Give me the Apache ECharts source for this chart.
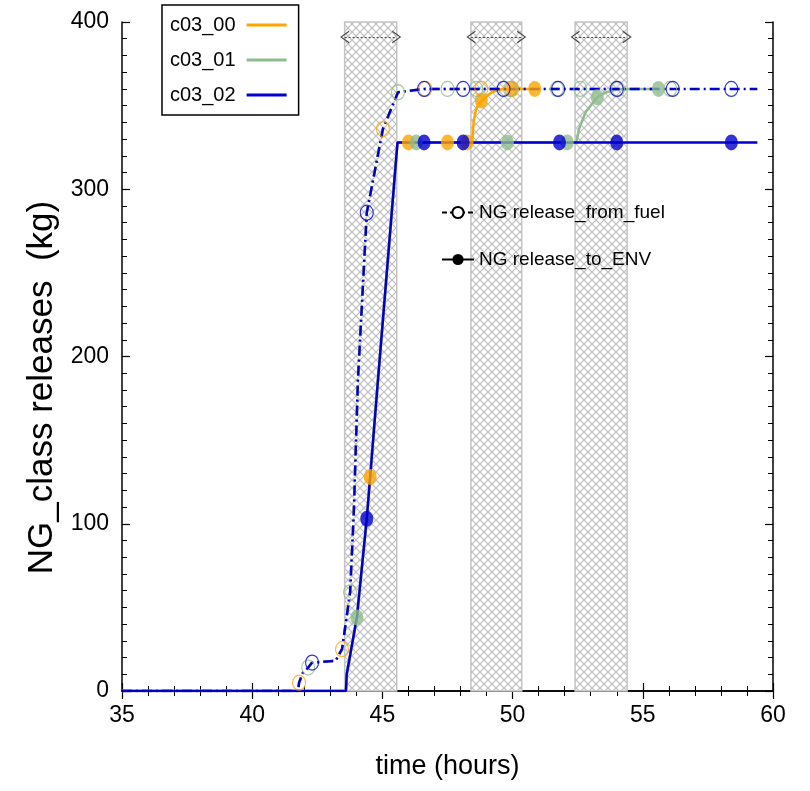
<!DOCTYPE html>
<html lang="en">

<head>
    <meta charset="UTF-8">
    <title>NG_class releases</title>
    <script src="https://cdn.jsdelivr.net/npm/echarts@6/dist/echarts.min.js"></script>
    <style>
        html, body { margin: 0; padding: 0; background: #fff; }
        #chart { width: 810px; height: 791px; }
    </style>
</head>

<body>
    <div id="chart"></div>
    <script>
        // 原始读数 (time in hours, kg)
        // release_from_fuel, shared rise
        var fuelRiseT = [35, 41.76, 41.8, 41.95, 42.15, 42.3, 43.2, 43.45, 43.76, 43.9, 44.06, 44.4, 45.02, 45.6, 46.6];
        var fuelRiseKg = [0, 0, 5, 11, 14, 17, 18, 25, 59, 106, 186, 286, 336, 358, 360];
        // tails (last time of each run)
        var fuelTail00T = [50.0], fuelTail00Kg = [360];
        var fuelTail01T = [56.1], fuelTail01Kg = [360];
        var fuelTail02T = [59.4], fuelTail02Kg = [360];

        // release_to_ENV
        var envRiseT = [35, 43.6, 43.63, 44.02, 44.4, 44.83, 45.58];
        var envRiseKg = [0, 0, 10, 44, 103, 186, 328];
        var envTail00T = [48.45, 48.5, 48.6, 48.8, 49.2, 49.6, 50.85];
        var envTail00Kg = [328, 340, 348, 353, 358, 360, 360];
        var envTail01T = [52.45, 52.55, 52.8, 53.25, 53.6, 54.1, 55.6];
        var envTail01Kg = [328, 336, 346, 355, 358, 360, 360];
        var envTail02T = [59.4];
        var envTail02Kg = [328];

        // markers
        var fuelMk00 = [[41.8, 5], [43.45, 25], [45.02, 336], [46.65, 360], [48.8, 360], [49.95, 360]];
        var fuelMk01 = [[42.15, 14], [43.76, 59], [45.6, 358], [47.5, 360], [48.6, 360], [49.9, 360], [51.7, 360], [52.6, 360], [54.05, 360], [56.05, 360]];
        var fuelMk02 = [[42.3, 17], [44.4, 286], [46.6, 360], [48.1, 360], [49.65, 360], [51.75, 360], [54.0, 360], [56.15, 360], [58.4, 360]];
        var envMk00 = [[44.53, 128], [46.0, 328], [47.5, 328], [48.25, 328], [48.8, 353], [50.0, 360], [50.85, 360]];
        var envMk01 = [[44.02, 44], [46.3, 328], [49.8, 328], [52.1, 328], [53.25, 355], [55.6, 360]];
        var envMk02 = [[44.4, 103], [46.6, 328], [48.1, 328], [51.8, 328], [54.0, 328], [58.4, 328]];

        // 阴影时段
        var bandStart = [43.55, 48.4, 52.4];
        var bandEnd = [45.55, 50.35, 54.4];
        var arrowKg = 391;

        var cases = ['c03_00', 'c03_01', 'c03_02'];
        var colors = ['#ffa500', '#8fbc8f', '#0000cd'];

        function pairs(t, v) {
            var out = [];
            for (var i = 0; i < t.length; i++) out.push([t[i], v[i]]);
            return out;
        }

        function hatch() {
            var c = document.createElement('canvas');
            c.width = 8; c.height = 8;
            var g = c.getContext('2d');
            g.fillStyle = '#fff';
            g.fillRect(0, 0, 8, 8);
            g.strokeStyle = '#bdbdbd';
            g.lineWidth = 1.2;
            g.beginPath();
            g.moveTo(0, 0); g.lineTo(8, 8);
            g.moveTo(8, 0); g.lineTo(0, 8);
            g.stroke();
            return c;
        }

        var fuelData = [
            pairs(fuelRiseT.concat(fuelTail00T), fuelRiseKg.concat(fuelTail00Kg)),
            pairs(fuelRiseT.concat(fuelTail01T), fuelRiseKg.concat(fuelTail01Kg)),
            pairs(fuelRiseT.concat(fuelTail02T), fuelRiseKg.concat(fuelTail02Kg))
        ];
        var envData = [
            pairs(envRiseT.concat(envTail00T), envRiseKg.concat(envTail00Kg)),
            pairs(envRiseT.concat(envTail01T), envRiseKg.concat(envTail01Kg)),
            pairs(envRiseT.concat(envTail02T), envRiseKg.concat(envTail02Kg))
        ];
        var fuelMk = [fuelMk00, fuelMk01, fuelMk02];
        var envMk = [envMk00, envMk01, envMk02];

        var font = "'Liberation Sans', Arial, sans-serif";

        var series = [];

        // 阴影 + 箭头
        var areas = [], arrows = [];
        for (var b = 0; b < bandStart.length; b++) {
            areas.push([{ xAxis: bandStart[b] }, { xAxis: bandEnd[b] }]);
            arrows.push([{ coord: [bandStart[b], arrowKg] }, { coord: [bandEnd[b], arrowKg] }]);
        }
        var chevron = 'path://M0,10 L5,0 L10,10 L8.8,10 L5,2 L1.2,10 Z';
        series.push({
            name: 'bands',
            type: 'line',
            data: [],
            silent: true,
            z: 1,
            markArea: {
                silent: true,
                itemStyle: {
                    color: { image: hatch(), repeat: 'repeat' },
                    borderColor: '#c4c4c4',
                    borderWidth: 1.5
                },
                data: areas
            },
            markLine: {
                silent: true,
                symbol: [chevron, chevron],
                symbolSize: [13, 9],
                label: { show: false },
                lineStyle: { color: '#444', width: 1, type: [2, 2] },
                data: arrows
            }
        });

        // 曲线
        for (var i = 0; i < 3; i++) {
            series.push({
                name: cases[i] + ' fuel',
                type: 'line',
                data: fuelData[i],
                showSymbol: false,
                z: 3 + i,
                lineStyle: { color: colors[i], width: 2.5, type: [10, 4, 2, 4] },
                itemStyle: { color: colors[i] }
            });
            series.push({
                name: cases[i],
                type: 'line',
                data: envData[i],
                showSymbol: false,
                z: 3 + i,
                lineStyle: { color: colors[i], width: 2.5 },
                itemStyle: { color: colors[i] }
            });
        }
        // 标记点
        for (var j = 0; j < 3; j++) {
            series.push({
                name: cases[j] + ' fuel pts',
                type: 'scatter',
                data: fuelMk[j],
                symbol: 'circle',
                symbolSize: [13, 15],
                z: 6 + j,
                itemStyle: { color: 'rgba(0,0,0,0)', borderColor: colors[j], borderWidth: 1.2 }
            });
            series.push({
                name: cases[j] + ' env pts',
                type: 'scatter',
                data: envMk[j],
                symbol: 'circle',
                symbolSize: [13, 16],
                z: 6 + j,
                itemStyle: { color: colors[j] }
            });
        }
        // 图例用
        series.push({
            name: 'NG release_from_fuel',
            type: 'line',
            data: [],
            symbol: 'emptyCircle',
            symbolSize: [11, 13],
            lineStyle: { color: '#000', width: 1.5, type: [5, 3, 2, 3] },
            itemStyle: { color: '#000', borderWidth: 1 }
        });
        series.push({
            name: 'NG release_to_ENV',
            type: 'line',
            data: [],
            symbol: 'circle',
            symbolSize: [12, 14],
            lineStyle: { color: '#000', width: 2 },
            itemStyle: { color: '#000' }
        });

        var axisLine = { show: true, lineStyle: { color: '#000', width: 1.5 } };
        var tick = { inside: true, length: 8, lineStyle: { color: '#000', width: 1.2 } };

        var option = {
            animation: false,
            backgroundColor: '#fff',
            grid: { left: 122, right: 37, top: 22, bottom: 100 },
            legend: [{
                data: cases,
                left: 162,
                top: 5,
                orient: 'vertical',
                align: 'right',
                icon: 'rect',
                itemWidth: 40,
                itemHeight: 3,
                itemGap: 15,
                padding: [10, 12, 10, 8],
                backgroundColor: '#fff',
                borderColor: '#000',
                borderWidth: 1.5,
                borderRadius: 0,
                selectedMode: false,
                textStyle: { fontFamily: font, fontSize: 20, color: '#000', padding: [0, 6, 0, 0] }
            }, {
                data: ['NG release_from_fuel', 'NG release_to_ENV'],
                left: 436,
                top: 198,
                orient: 'vertical',
                itemWidth: 32,
                itemHeight: 14,
                itemGap: 28,
                selectedMode: false,
                textStyle: { fontFamily: font, fontSize: 19, color: '#000' }
            }],
            xAxis: [{
                type: 'value',
                min: 35,
                max: 60,
                interval: 5,
                position: 'bottom',
                name: 'time (hours)',
                nameLocation: 'middle',
                nameGap: 62,
                nameTextStyle: { fontFamily: font, fontSize: 27, color: '#000' },
                axisLine: axisLine,
                axisTick: tick,
                minorTick: { show: true, splitNumber: 5, length: 5, lineStyle: { color: '#000', width: 1 } },
                axisLabel: { fontFamily: font, fontSize: 23, color: '#000', margin: 13 },
                splitLine: { show: false }
            }, {
                type: 'value',
                min: 35,
                max: 60,
                interval: 5,
                position: 'top',
                axisLine: axisLine,
                axisTick: tick,
                minorTick: { show: true, splitNumber: 5, length: 5, lineStyle: { color: '#000', width: 1 } },
                axisLabel: { show: false },
                splitLine: { show: false }
            }],
            yAxis: [{
                type: 'value',
                min: 0,
                max: 400,
                interval: 100,
                position: 'left',
                name: 'NG_class releases  (kg)',
                nameLocation: 'middle',
                nameGap: 56,
                nameTextStyle: { fontFamily: font, fontSize: 35, color: '#000', padding: [0, 62, 0, 0] },
                axisLine: axisLine,
                axisTick: tick,
                minorTick: { show: true, splitNumber: 10, length: 5, lineStyle: { color: '#000', width: 1 } },
                axisLabel: { fontFamily: font, fontSize: 23, color: '#000', margin: 13 },
                splitLine: { show: false }
            }, {
                type: 'value',
                min: 0,
                max: 400,
                interval: 100,
                position: 'right',
                axisLine: axisLine,
                axisTick: tick,
                minorTick: { show: true, splitNumber: 10, length: 5, lineStyle: { color: '#000', width: 1 } },
                axisLabel: { show: false },
                splitLine: { show: false }
            }],
            series: series
        };

        var myChart = echarts.init(document.getElementById('chart'));
        myChart.setOption(option);
    </script>
</body>

</html>
